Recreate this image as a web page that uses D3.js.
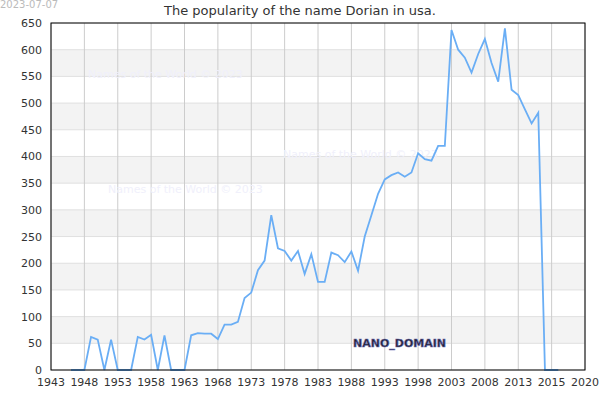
<!DOCTYPE html><html><head><script src="https://cdn.jsdelivr.net/npm/d3@7"></script>
<style>body{margin:0}text{font-family:"DejaVu Sans",sans-serif}</style></head><body><svg id="c" width="600" height="400"></svg>
<script>
const years=d3.range(1946,2020);
const values=[0,0,0,62,57,0,57,0,0,0,62,57,66,0,65,0,0,0,65,69,68,68,58,85,85,90,135,145,187,205,290,228,223,205,223,180,217,165,165,220,215,202,222,186,250,290,330,357,365,370,362,370,406,395,392,420,420,637,600,585,557,592,620,575,540,640,525,515,488,462,482,0,0,0];
const tickYears=[1943,1948,1953,1958,1963,1968,1973,1978,1983,1988,1993,1998,2003,2008,2013,2018,2023];
const tickLabels=["1943","1948","1953","1958","1963","1968","1973","1978","1983","1988","1993","1998","2003","2008","2013","2015","2020"];
const yTicks=d3.range(0,651,50);
const svg=d3.select("#c");
const L=51,R=585,B=370,T=23;
const x=d3.scaleLinear().domain([1943,2023]).range([L,R]);
const y=d3.scaleLinear().domain([0,650]).range([B,T]);
svg.append("rect").attr("width",600).attr("height",400).attr("fill","#fff");
yTicks.slice(0,-1).forEach((v,i)=>{ if(i%2==1) svg.append("rect").attr("x",L).attr("width",R-L).attr("y",y(v+50)).attr("height",y(v)-y(v+50)).attr("fill","#f3f3f3");});
svg.append("g").selectAll("line").data(yTicks).join("line").attr("x1",L).attr("x2",R).attr("y1",d=>y(d)).attr("y2",d=>y(d)).attr("stroke","#e0e0e0");
svg.append("g").selectAll("line").data(tickYears).join("line").attr("x1",d=>x(d)).attr("x2",d=>x(d)).attr("y1",T).attr("y2",B).attr("stroke","#ccc");
const wm=[[88,78],[283,158],[108,193]];
wm.forEach(p=>svg.append("text").attr("x",p[0]).attr("y",p[1]).attr("font-size",11).attr("fill","#f0f0fb").text("Names of the World © 2023"));
svg.append("path").datum(values).attr("fill","none").attr("stroke","#6aaef5").attr("stroke-width",1.8)
 .attr("d",d3.line().x((d,i)=>x(years[i])).y(d=>y(d)));
svg.append("rect").attr("x",L).attr("y",T).attr("width",R-L).attr("height",B-T).attr("fill","none").attr("stroke","#000");
svg.append("g").selectAll("text").data(yTicks).join("text").attr("x",L-9).attr("y",d=>y(d)+4).attr("text-anchor","end").attr("font-size",11).attr("fill","#333").text(d=>d);
svg.append("g").selectAll("text").data(tickYears).join("text").attr("x",d=>x(d)).attr("y",B+16).attr("text-anchor","middle").attr("font-size",11).attr("fill","#333").text((d,i)=>tickLabels[i]);
svg.append("text").attr("x",300).attr("y",15).attr("text-anchor","middle").attr("font-size",13).attr("fill","#333").text("The popularity of the name Dorian in usa.");
svg.append("text").attr("x",0).attr("y",8).attr("font-size",10).attr("fill","#bbb").text("2023-07-07");
svg.append("text").attr("x",353).attr("y",347).attr("font-size",11).attr("font-weight","bold").attr("fill","#223").attr("stroke","#6a6ab0").attr("stroke-width",0.6).text("NANO_DOMAIN");
</script></body></html>
